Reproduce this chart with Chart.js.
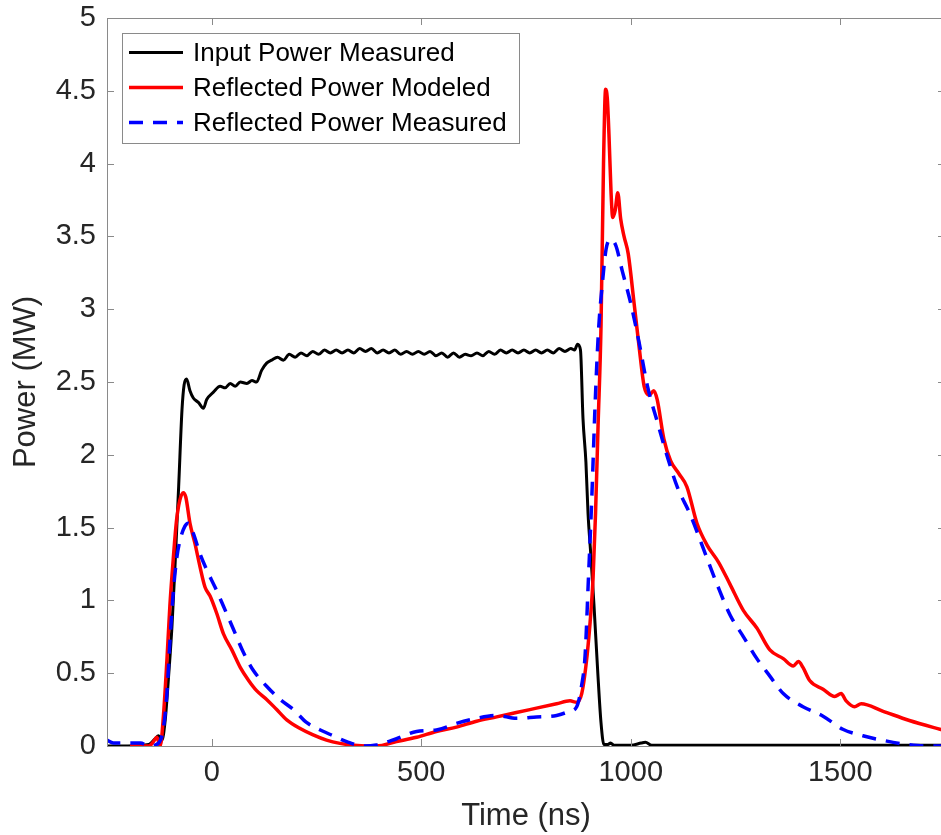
<!DOCTYPE html>
<html>
<head>
<meta charset="utf-8">
<script src="https://cdn.jsdelivr.net/npm/chart.js@4/dist/chart.umd.min.js"></script>
<style>
  html, body { margin: 0; padding: 0; background: #fff; overflow: hidden; }
  #wrap { width: 960px; height: 835px; }
</style>
</head>
<body>
<div id="wrap"><canvas id="power" width="960" height="835"></canvas></div>
<script>
/* ── data (time in ns, power in MW) ── */
const INPUT_T = [-250, -200, -150, -135, -127, -119, -111, -103, -95, -87, -79, -71, -66, -60, -52, -44, -32, -20, -12, 4, 20, 32, 44, 56, 68, 84, 96, 107, 119, 131, 143,
  157, 171, 185, 199, 213, 227, 241, 255, 269, 283, 297, 311, 325, 339, 353, 367, 381, 395, 409, 423, 437, 451, 465, 479, 493, 507, 521, 535, 549, 563, 577, 591, 605, 619, 633, 647, 661, 675, 689, 703, 717, 731, 745, 759, 773, 787, 801, 815, 829, 843, 857, 866, 873, 880,
  886, 893, 898, 905, 912, 921, 929, 936, 945, 952, 960, 1000, 1025, 1035, 1050, 1200, 1400, 1750];
const INPUT_P = [0.0, 0.0, 0.01, 0.05, 0.07, 0.04, 0.18, 0.48, 0.82, 1.28, 1.78, 2.31, 2.48, 2.52, 2.44, 2.39, 2.36, 2.32, 2.38, 2.43, 2.47, 2.46, 2.49, 2.47, 2.50, 2.49, 2.51, 2.50, 2.58, 2.63, 2.65,
  2.67, 2.65, 2.69, 2.67, 2.70, 2.68, 2.71, 2.69, 2.72, 2.70, 2.72, 2.70, 2.72, 2.70, 2.73, 2.71, 2.73, 2.70, 2.72, 2.70, 2.72, 2.69, 2.71, 2.69, 2.71, 2.69, 2.71, 2.68, 2.70, 2.67, 2.70, 2.67, 2.69, 2.68, 2.70, 2.68, 2.71, 2.69, 2.72, 2.70, 2.72, 2.70, 2.72, 2.70, 2.72, 2.70, 2.72, 2.70, 2.73, 2.71, 2.73, 2.72, 2.76, 2.72,
  2.25, 1.95, 1.60, 1.30, 0.98, 0.52, 0.16, 0.01, 0.01, 0.02, 0.005, 0.005, 0.02, 0.025, 0.005, 0.005, 0.005, 0.005];

const MODEL_T = [-195, -150, -139, -131, -123, -115, -107, -100, -92, -84, -76, -68, -62, -52, -40, -28, -16, -4, 12, 28, 48, 68, 88, 107, 131, 155, 179, 211, 242, 274, 306, 340, 370, 393,
  441, 489, 536, 584, 632, 680, 727, 775, 823, 855, 871, 883, 893, 903, 910, 916, 922, 929, 935, 940, 944, 948, 953, 957, 963, 969, 976, 984, 994,
  1008, 1020, 1032, 1044, 1055, 1063, 1079, 1095, 1115, 1134, 1158, 1182, 1210, 1237, 1269, 1301, 1332, 1364, 1388, 1400, 1411, 1427, 1459, 1487, 1502, 1514, 1534, 1550, 1601, 1665, 1750];
const MODEL_P = [0.0, 0.0, 0.03, 0.06, 0.0, 0.22, 0.59, 0.96, 1.28, 1.55, 1.69, 1.74, 1.71, 1.53, 1.39, 1.23, 1.09, 1.03, 0.91, 0.77, 0.66, 0.54, 0.45, 0.38, 0.32, 0.25, 0.18, 0.12, 0.076, 0.04, 0.018, 0.005, 0.0, 0.0,
  0.03, 0.06, 0.10, 0.13, 0.17, 0.20, 0.23, 0.26, 0.29, 0.31, 0.30, 0.36, 0.55, 0.85, 1.15, 1.60, 2.20, 2.88, 4.00, 4.51, 4.45, 4.20, 3.80, 3.63, 3.68, 3.80, 3.62, 3.50, 3.38,
  3.04, 2.74, 2.47, 2.41, 2.44, 2.38, 2.11, 1.96, 1.87, 1.78, 1.53, 1.38, 1.26, 1.11, 0.93, 0.81, 0.66, 0.60, 0.55, 0.58, 0.54, 0.45, 0.39, 0.34, 0.36, 0.31, 0.27, 0.29, 0.24, 0.175, 0.105];

const REFL_T = [-250, -235, -200, -170, -150, -127, -115, -107, -100, -92, -84, -76, -64, -56, -44, -28, -12, 8, 28, 52, 76, 99, 131, 163, 195, 227, 259, 290, 322, 362, 393,
  441, 489, 536, 584, 632, 680, 727, 775, 823, 855, 871, 883, 891, 899, 907, 915, 923, 933, 941, 951, 964, 980,
  1000, 1020, 1040, 1063, 1087, 1111, 1142, 1174, 1206, 1237, 1269, 1301, 1332, 1364, 1411, 1459, 1506, 1554, 1600, 1660, 1700, 1750];
const REFL_P = [0.04, 0.02, 0.02, 0.02, 0.0, 0.02, 0.13, 0.36, 0.71, 1.05, 1.28, 1.41, 1.51, 1.53, 1.46, 1.32, 1.21, 1.09, 0.96, 0.80, 0.64, 0.52, 0.41, 0.32, 0.25, 0.16, 0.11, 0.07, 0.03, 0.0, 0.007,
  0.05, 0.10, 0.11, 0.155, 0.19, 0.21, 0.19, 0.20, 0.21, 0.24, 0.27, 0.42, 0.62, 1.15, 1.70, 2.35, 2.85, 3.20, 3.41, 3.48, 3.44, 3.26,
  3.04, 2.77, 2.47, 2.23, 1.99, 1.78, 1.59, 1.35, 1.11, 0.90, 0.75, 0.60, 0.48, 0.36, 0.27, 0.205, 0.115, 0.07, 0.04, 0.01, 0.0, 0.0];

const SERIES = ['Input Power Measured', 'Reflected Power Modeled', 'Reflected Power Measured'];
const X_TICKS = [0, 500, 1000, 1500];
const Y_TICKS = [0, 0.5, 1, 1.5, 2, 2.5, 3, 3.5, 4, 4.5, 5];

const pts = (t, p) => t.map((v, i) => ({ x: v, y: p[i] }));
const FONT = "'Liberation Sans', Arial, Helvetica, sans-serif";
const INK = '#262626';
const FRAME = '#8a8a8a';

/* box + inward ticks, matlab style */
const framePlugin = {
  id: 'frame',
  afterDraw (chart) {
    const { ctx, chartArea: a, scales: { x, y } } = chart;
    ctx.save();
    ctx.strokeStyle = FRAME;
    ctx.lineWidth = 1;
    ctx.beginPath();
    X_TICKS.forEach(v => {
      const px = Math.round(x.getPixelForValue(v)) + 0.5;
      ctx.moveTo(px, a.bottom); ctx.lineTo(px, a.bottom - 7);
      ctx.moveTo(px, a.top);    ctx.lineTo(px, a.top + 7);
    });
    Y_TICKS.forEach(v => {
      const py = Math.round(y.getPixelForValue(v)) + 0.5;
      ctx.moveTo(a.left, py);  ctx.lineTo(a.left + 7, py);
      ctx.moveTo(a.right, py); ctx.lineTo(a.right - 7, py);
    });
    ctx.stroke();
    ctx.strokeRect(Math.round(a.left) + 0.5, Math.round(a.top) + 0.5,
                   Math.round(a.right - a.left), Math.round(a.bottom - a.top));
    ctx.restore();
  }
};

/* boxed legend in the upper-left corner */
const legendPlugin = {
  id: 'boxLegend',
  afterDraw (chart) {
    const { ctx } = chart;
    const bx = 122.5, by = 33.5, bw = 397, bh = 110;
    ctx.save();
    ctx.fillStyle = '#fff';
    ctx.fillRect(bx, by, bw, bh);
    ctx.strokeStyle = '#8a8a8a';
    ctx.lineWidth = 1;
    ctx.strokeRect(bx, by, bw, bh);
    ctx.font = '26px ' + FONT;
    ctx.textBaseline = 'middle';
    chart.data.datasets.forEach((ds, i) => {
      const ry = by + 19 + i * 35;
      ctx.strokeStyle = ds.borderColor;
      ctx.lineWidth = ds.borderWidth;
      ctx.setLineDash(ds.borderDash || []);
      ctx.beginPath();
      ctx.moveTo(129, ry); ctx.lineTo(183, ry);
      ctx.stroke();
      ctx.setLineDash([]);
      ctx.fillStyle = '#000';
      ctx.fillText(ds.label, 193, ry + 1);
    });
    ctx.restore();
  }
};

new Chart(document.getElementById('power'), {
  type: 'line',
  data: {
    datasets: [
      { label: SERIES[0], data: pts(INPUT_T, INPUT_P), borderColor: '#000000', borderWidth: 3, order: 3 },
      { label: SERIES[1], data: pts(MODEL_T, MODEL_P), borderColor: '#ff0000', borderWidth: 3.5, order: 2 },
      { label: SERIES[2], data: pts(REFL_T, REFL_P),  borderColor: '#0000ff', borderWidth: 3.5, borderDash: [14, 10], order: 1 }
    ].map(d => Object.assign(d, { pointRadius: 0, fill: false, cubicInterpolationMode: 'monotone' }))
  },
  options: {
    responsive: false,
    animation: false,
    layout: { padding: { top: 18, right: 15, left: 0, bottom: 0 } },
    plugins: { legend: { display: false }, tooltip: { enabled: false } },
    scales: {
      x: {
        type: 'linear', min: -250, max: 1750,
        afterBuildTicks: s => { s.ticks = X_TICKS.map(v => ({ value: v })); },
        afterFit: s => { s.height = 89; s.paddingLeft = 0; s.paddingRight = 0; },
        grid: { display: false, drawTicks: false },
        border: { display: false },
        ticks: { color: INK, font: { family: FONT, size: 29 }, padding: 10, maxRotation: 0,
                 callback: v => String(v) },
        title: { display: true, text: 'Time (ns)', color: INK, font: { family: FONT, size: 31 },
                 padding: { top: 2, bottom: 0 } }
      },
      y: {
        type: 'linear', min: 0, max: 5,
        afterBuildTicks: s => { s.ticks = Y_TICKS.map(v => ({ value: v })); },
        afterFit: s => { s.width = 107; s.paddingTop = 0; s.paddingBottom = 0; },
        grid: { display: false, drawTicks: false },
        border: { display: false },
        ticks: { color: INK, font: { family: FONT, size: 29 }, padding: 11,
                 callback: v => String(v) },
        title: { display: true, text: 'Power (MW)', color: INK, font: { family: FONT, size: 31 },
                 padding: { top: 8, bottom: 0 } }
      }
    }
  },
  plugins: [framePlugin, legendPlugin]
});
</script>
</body>
</html>
